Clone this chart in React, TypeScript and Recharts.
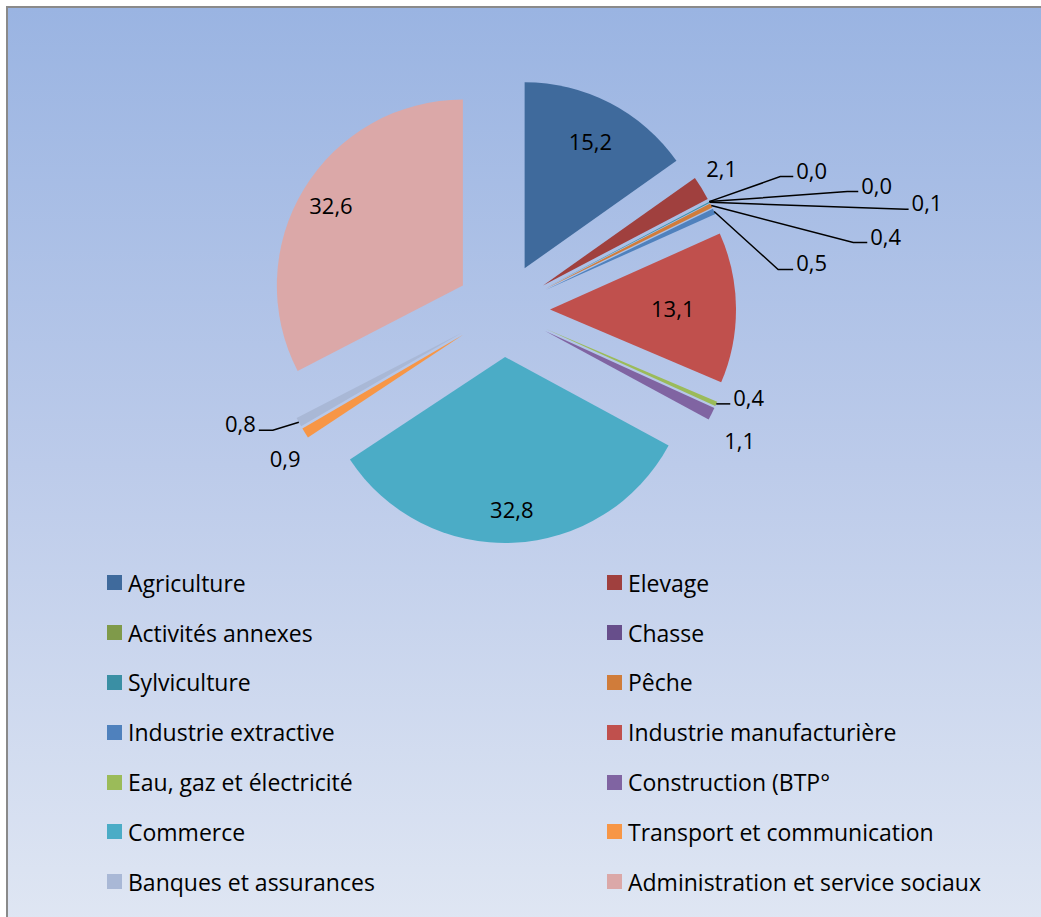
import { PieChart, Pie, Cell, Legend, Sector } from "recharts";

const sectors = [
  "Agriculture",
  "Elevage",
  "Activités annexes",
  "Chasse",
  "Sylviculture",
  "Pêche",
  "Industrie extractive",
  "Industrie manufacturière",
  "Eau, gaz et électricité",
  "Construction (BTP°",
  "Commerce",
  "Transport et communication",
  "Banques et assurances",
  "Administration et service sociaux",
];

const shares = [15.2, 2.1, 0.0, 0.0, 0.1, 0.4, 0.5, 13.1, 0.4, 1.1, 32.8, 0.9, 0.8, 32.6];

const colors = [
  "#3f6a9c",
  "#a0403e",
  "#7f9a4a",
  "#674e8b",
  "#3a8fa4",
  "#d07c3a",
  "#4f81bd",
  "#c0504d",
  "#9bbb59",
  "#8064a2",
  "#4bacc6",
  "#f79646",
  "#a9b8d6",
  "#dba8a8",
];

const data = sectors.map((name, i) => ({ name, value: shares[i] }));

const FONT = "'Open Sans', 'Noto Sans', sans-serif";
const EXPLODE = 47;
const RADIUS = 186;

// where each value label goes: inside (fraction of radius), beside the tip (dx/dy),
// or at the end of a leader line (elbow offset from the tip + horizontal tail)
const labelPlacement: any[] = [
  { frac: 0.77 },
  { dx: 20, dy: -20 },
  { ex: 71, ey: -25, tail: 13 },
  { ex: 138, ey: -10, tail: 11 },
  { ex: 196, ey: 7, tail: 3 },
  { ex: 142, ey: 37, tail: 14 },
  { ex: 64, ey: 58, tail: 15 },
  { frac: 0.66 },
  { ex: 0, ey: 0, tail: 14 },
  { dx: 28, dy: 26 },
  { frac: 0.82 },
  { dx: -20, dy: 25 },
  { ex: -26, ey: 8, tail: -14 },
  { frac: 0.83 },
];

function ExplodedSector(props: any) {
  const rad = (props.midAngle * Math.PI) / 180;
  return (
    <Sector
      {...props}
      cx={props.cx + EXPLODE * Math.cos(rad)}
      cy={props.cy - EXPLODE * Math.sin(rad)}
      stroke="none"
    />
  );
}

function fmt(v: number) {
  return v.toFixed(1).replace(".", ",");
}

function renderLabel(props: any) {
  const { cx, cy, midAngle, outerRadius, index, value } = props;
  const rad = (midAngle * Math.PI) / 180;
  const ux = Math.cos(rad);
  const uy = -Math.sin(rad);
  const p = labelPlacement[index];
  const txt = fmt(value);
  const textProps = { fontFamily: FONT, fontSize: 22, fill: "#000" };
  if (p.frac !== undefined) {
    const r = EXPLODE + p.frac * outerRadius;
    return (
      <text x={cx + r * ux} y={cy + r * uy} textAnchor="middle" dominantBaseline="central" {...textProps}>
        {txt}
      </text>
    );
  }
  const tipX = cx + (EXPLODE + outerRadius) * ux;
  const tipY = cy + (EXPLODE + outerRadius) * uy;
  if (p.dx !== undefined) {
    return (
      <text x={tipX + p.dx} y={tipY + p.dy} textAnchor="middle" dominantBaseline="central" {...textProps}>
        {txt}
      </text>
    );
  }
  const elbowX = tipX + p.ex;
  const elbowY = tipY + p.ey;
  const endX = elbowX + p.tail;
  const right = p.tail >= 0;
  return (
    <g>
      <polyline
        points={`${tipX},${tipY} ${elbowX},${elbowY} ${endX},${elbowY}`}
        fill="none"
        stroke="#000"
        strokeWidth={1.5}
      />
      <text
        x={endX + (right ? 3 : -3)}
        y={elbowY - 7}
        textAnchor={right ? "start" : "end"}
        dominantBaseline="central"
        {...textProps}
      >
        {txt}
      </text>
    </g>
  );
}

function LegendGrid(props: any) {
  const payload = props.payload && props.payload.length ? props.payload : data.map((d, i) => ({ value: d.name, color: colors[i] }));
  return (
    <div
      style={{
        display: "grid",
        gridTemplateColumns: "500px 500px",
        gridAutoRows: "49.8px",
        fontFamily: FONT,
        fontSize: 23,
        color: "#000",
      }}
    >
      {payload.map((item: any, i: number) => (
        <div key={i} style={{ display: "flex", alignItems: "center" }}>
          <span
            style={{
              display: "inline-block",
              width: 15,
              height: 15,
              background: item.color ?? colors[i],
              marginRight: 6,
            }}
          />
          <span>{item.value}</span>
        </div>
      ))}
    </div>
  );
}

export default function App() {
  return (
    <div style={{ position: "absolute", left: 0, top: 0, width: 1041, height: 917, overflow: "hidden", background: "#fff" }}>
      <div
        style={{
          position: "absolute",
          left: 6,
          top: 6,
          width: 1040,
          height: 915,
          boxSizing: "border-box",
          borderTop: "2px solid #8a8a8a",
          borderLeft: "2px solid #8a8a8a",
          background: "linear-gradient(to bottom, #9ab4e2 0%, #bccbea 50%, #dfe6f3 100%)",
        }}
      >
        <PieChart width={1033} height={909} margin={{ top: 0, right: 0, bottom: 0, left: 0 }}>
          <Pie
            data={data}
            dataKey="value"
            nameKey="name"
            cx={495}
            cy={302}
            outerRadius={RADIUS}
            startAngle={90}
            endAngle={-270}
            isAnimationActive={false}
            shape={ExplodedSector}
            label={renderLabel}
            labelLine={false}
          >
            {data.map((d, i) => (
              <Cell key={d.name} fill={colors[i]} stroke="none" />
            ))}
          </Pie>
          <Legend
            content={LegendGrid}
            itemSorter={null}
            wrapperStyle={{ left: 99, top: 550, width: 1000, height: 350, bottom: "auto" }}
          />
        </PieChart>
      </div>
    </div>
  );
}
